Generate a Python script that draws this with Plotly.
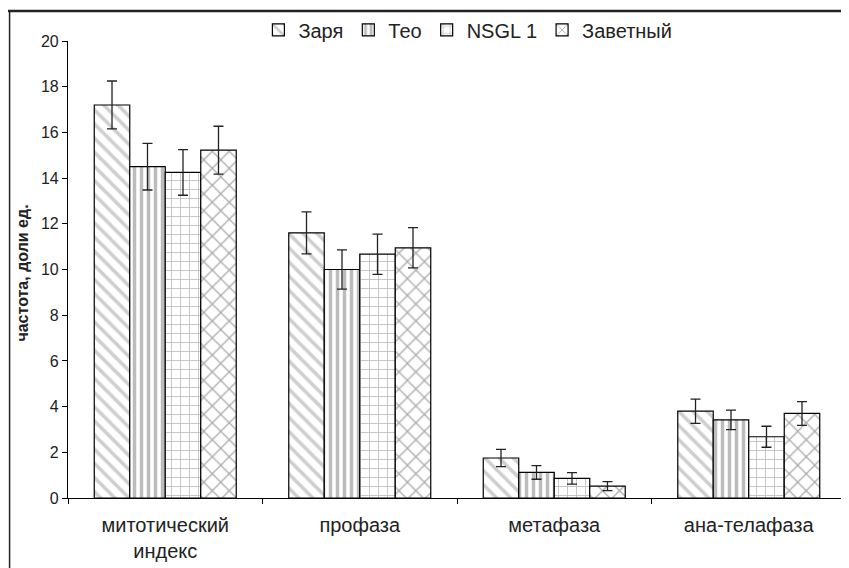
import plotly.graph_objects as go

categories = ["митотический<br>индекс", "профаза", "метафаза", "ана-телафаза"]
series_names = ["Заря", "Тео", "NSGL 1", "Заветный"]
values = {
    "Заря":     [17.2, 11.6, 1.75, 3.8],
    "Тео":      [14.5, 10.0, 1.12, 3.42],
    "NSGL 1":   [14.25, 10.67, 0.86, 2.68],
    "Заветный": [15.22, 10.95, 0.52, 3.7],
}
errors = {
    "Заря":     [1.05, 0.92, 0.38, 0.53],
    "Тео":      [1.02, 0.86, 0.30, 0.43],
    "NSGL 1":   [1.0, 0.88, 0.25, 0.46],
    "Заветный": [1.05, 0.88, 0.20, 0.52],
}
y_ticks = [0, 2, 4, 6, 8, 10, 12, 14, 16, 18, 20]

patterns = {
    "Заря":     dict(shape="\\", size=10, solidity=0.35, fgcolor="#a0a0a0"),
    "Тео":      dict(shape="|", size=7, solidity=0.5, fgcolor="#7a7a7a"),
    "NSGL 1":   dict(shape="+", size=9, solidity=0.18, fgcolor="#7a7a7a"),
    "Заветный": dict(shape="x", size=12, solidity=0.2, fgcolor="#555555"),
}

fig = go.Figure()
for name in series_names:
    fig.add_trace(go.Bar(
        name=name,
        x=categories,
        y=values[name],
        marker=dict(color="white", line=dict(color="black", width=1.2),
                    pattern=dict(bgcolor="white", **patterns[name])),
        error_y=dict(type="data", array=errors[name], visible=True,
                     color="#222", thickness=1.3, width=5),
    ))

font_main = "Liberation Sans, Arial, sans-serif"
# the page body has an 8px margin, so the figure is sized/offset to compensate
fig.update_layout(
    width=841, height=560,
    margin=dict(l=60, r=3, t=32, b=70),
    paper_bgcolor="white", plot_bgcolor="white",
    barmode="group", bargap=0.27, bargroupgap=0,
    font=dict(family=font_main, color="#222"),
    showlegend=True,
    legend=dict(orientation="h", x=0.514, y=1.022, xanchor="center", yanchor="middle",
                font=dict(size=20, family=font_main, color="#222"),
                itemwidth=30, bgcolor="rgba(0,0,0,0)", traceorder="normal"),
    xaxis=dict(showline=True, linecolor="black", linewidth=1.2,
               ticks="outside", tickson="boundaries", ticklen=5, tickcolor="black",
               ticklabelstandoff=9,
               tickfont=dict(size=20, family=font_main, color="#222"),
               showgrid=False, zeroline=False),
    yaxis=dict(range=[0, 20], tickvals=y_ticks, showline=True, linecolor="black",
               linewidth=1.2, ticks="outside", ticklen=5, tickcolor="black",
               tickfont=dict(size=16, family=font_main, color="#222"),
               showgrid=False, zeroline=False),
    annotations=[dict(text="<b>частота, доли ед.</b>", textangle=-90,
                      xref="paper", yref="paper", x=-0.058, y=0.493,
                      xanchor="center", yanchor="middle",
                      showarrow=False, font=dict(size=16, family=font_main, color="#222"))],
    shapes=[
        dict(type="line", xref="paper", yref="paper", x0=-0.0771, x1=1.1, y0=1.0655, y1=1.0655,
             line=dict(color="#222", width=2.5)),
        dict(type="line", xref="paper", yref="paper", x0=-0.0751, x1=-0.0751, y0=1.0655, y1=-0.2,
             line=dict(color="#222", width=1.5)),
    ],
)

fig.write_html("out.html")
